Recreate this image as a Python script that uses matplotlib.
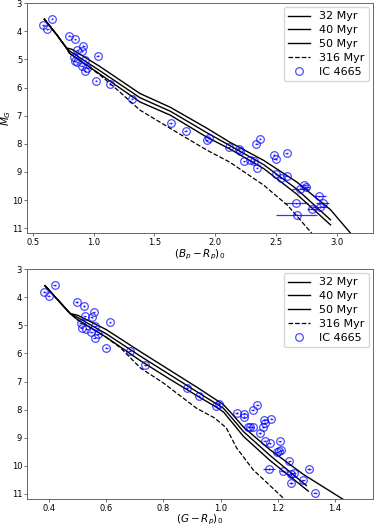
import numpy as np
import matplotlib
matplotlib.use('Agg')
import matplotlib.pyplot as plt

# IC 4665 members, (Bp-Rp)_0 vs M_G
bprp = [0.585, 0.618, 0.656, 0.80, 0.845, 0.914, 0.862, 0.903, 0.835, 1.032,
        0.925, 0.843, 0.86, 0.90, 0.947, 0.928, 1.018, 1.133, 1.317, 1.633,
        1.756, 1.93, 1.95, 2.116, 2.198, 2.204, 2.24, 2.287, 2.32, 2.34,
        2.37, 2.344, 2.487, 2.498, 2.589, 2.50, 2.54, 2.589, 2.734, 2.75,
        2.70, 2.858, 2.666, 2.886, 2.795, 2.86, 2.672]
mg_top = [3.79, 3.93, 3.55, 4.15, 4.28, 4.52, 4.67, 4.70, 4.91, 4.87,
          5.03, 5.07, 5.10, 5.23, 5.30, 5.41, 5.76, 5.89, 6.39, 7.27,
          7.53, 7.88, 7.80, 8.12, 8.18, 8.27, 8.62, 8.59, 8.61, 8.00,
          7.82, 8.85, 8.39, 8.55, 8.33, 9.08, 9.20, 9.14, 9.47, 9.55,
          9.60, 9.86, 10.12, 10.10, 10.30, 10.25, 10.53]
bprp_err = [0.01, 0.01, 0.01, 0.01, 0.01, 0.01, 0.01, 0.01, 0.01, 0.01,
            0.01, 0.01, 0.01, 0.01, 0.01, 0.01, 0.01, 0.01, 0.01, 0.01,
            0.01, 0.01, 0.01, 0.01, 0.01, 0.01, 0.01, 0.01, 0.01, 0.01,
            0.01, 0.01, 0.01, 0.01, 0.01, 0.01, 0.01, 0.01, 0.02, 0.03,
            0.07, 0.055, 0.10, 0.055, 0.04, 0.06, 0.17]

# IC 4665 members, (G-Rp)_0 vs M_G
grp = [0.383, 0.399, 0.42, 0.497, 0.5225, 0.556, 0.55, 0.525, 0.511, 0.6135,
       0.562, 0.515, 0.53, 0.548, 0.57, 0.56, 0.601, 0.682, 0.737, 0.881,
       0.924, 0.983, 0.994, 1.056, 1.082, 1.082, 1.112, 1.128, 1.097, 1.103,
       1.112, 1.153, 1.155, 1.149, 1.178, 1.137, 1.155, 1.172, 1.207, 1.196,
       1.205, 1.213, 1.24, 1.17, 1.217, 1.257, 1.245, 1.31, 1.289, 1.246,
       1.33]
mg_bot = [3.81, 3.95, 3.57, 4.17, 4.31, 4.53, 4.71, 4.67, 4.90, 4.89,
          5.04, 5.09, 5.12, 5.24, 5.32, 5.44, 5.79, 5.91, 6.42, 7.23,
          7.50, 7.88, 7.80, 8.12, 8.15, 8.26, 8.00, 7.82, 8.60, 8.60,
          8.63, 8.38, 8.47, 8.62, 8.32, 8.83, 9.10, 9.19, 9.13, 9.52,
          9.48, 9.45, 9.84, 10.11, 10.20, 10.25, 10.30, 10.11, 10.52, 10.61,
          10.96]
grp_err = [0.005] * 43 + [0.02] + [0.008] * 7

# isochrones, (Bp-Rp)_0
iso32_bprp = [0.593, 0.70, 0.774, 0.82, 1.05, 1.38, 1.63, 1.93, 2.12, 2.40, 2.67, 2.95, 3.12]
iso32_mg = [3.57, 4.15, 4.59, 4.64, 5.25, 6.21, 6.70, 7.44, 7.94, 8.59, 9.35, 10.34, 11.2]
iso40_bprp = [0.593, 0.70, 0.774, 0.80, 1.05, 1.38, 1.63, 1.93, 2.12, 2.40, 2.67, 2.95]
iso40_mg = [3.57, 4.15, 4.59, 4.70, 5.40, 6.36, 6.84, 7.60, 8.06, 8.74, 9.60, 10.70]
iso50_bprp = [0.593, 0.70, 0.774, 0.80, 1.05, 1.38, 1.63, 1.93, 2.12, 2.40, 2.67, 2.95]
iso50_mg = [3.57, 4.15, 4.59, 4.78, 5.52, 6.51, 6.98, 7.76, 8.18, 8.88, 9.78, 10.88]
iso316_bprp = [0.593, 0.70, 0.774, 0.80, 1.05, 1.20, 1.38, 1.63, 1.93, 2.12, 2.40, 2.60, 2.80]
iso316_mg = [3.57, 4.15, 4.59, 4.78, 5.55, 6.10, 6.80, 7.45, 8.22, 8.65, 9.47, 10.2, 11.2]

# isochrones, (G-Rp)_0
iso32_grp = [0.386, 0.474, 0.50, 0.60, 0.72, 0.82, 0.92, 0.98, 1.01, 1.04, 1.08, 1.172, 1.289, 1.43]
iso32_mgb = [3.59, 4.58, 4.64, 5.15, 5.94, 6.58, 7.22, 7.62, 7.82, 8.15, 8.62, 9.42, 10.30, 11.2]
iso40_grp = [0.386, 0.474, 0.50, 0.60, 0.72, 0.82, 0.92, 0.98, 1.01, 1.04, 1.08, 1.172, 1.30]
iso40_mgb = [3.59, 4.58, 4.72, 5.30, 6.10, 6.74, 7.38, 7.76, 7.95, 8.30, 8.78, 9.62, 10.70]
iso50_grp = [0.386, 0.474, 0.50, 0.60, 0.72, 0.82, 0.92, 0.98, 1.01, 1.04, 1.08, 1.172, 1.307]
iso50_mgb = [3.59, 4.58, 4.80, 5.42, 6.26, 6.90, 7.52, 7.88, 8.08, 8.45, 8.95, 9.80, 10.90]
iso316_grp = [0.386, 0.474, 0.50, 0.60, 0.65, 0.72, 0.80, 0.916, 0.98, 1.02, 1.056, 1.114, 1.225]
iso316_mgb = [3.59, 4.58, 4.80, 5.43, 5.80, 6.52, 7.05, 7.95, 8.30, 8.65, 9.36, 10.14, 11.2]

ages = ['32 Myr', '40 Myr', '50 Myr', '316 Myr']

fig = plt.figure(figsize=(3.74, 5.26), dpi=100)
ax1 = fig.add_axes([0.0722, 0.557, 0.925, 0.437])
ax2 = fig.add_axes([0.0722, 0.0513, 0.925, 0.437])


def draw_panel(ax, isos, x, y, xerr):
    for (ix, iy), lab in zip(isos, ages):
        ls = '--' if lab == '316 Myr' else '-'
        lw = 0.9 if lab == '316 Myr' else 1.0
        ax.plot(ix, iy, color='k', ls=ls, lw=lw, label=lab)
    ax.errorbar(x, y, xerr=xerr, yerr=0.02, fmt='none', ecolor='b',
                elinewidth=0.9, alpha=0.8)
    ax.plot(x, y, 'o', ms=5.5, mfc='none', mec='b', mew=0.9, alpha=0.7,
            label='IC 4665')
    ax.set_yticks(range(3, 12))
    ax.tick_params(labelsize=6, length=2, pad=1.5, width=0.6, color='0.35')
    for s in ax.spines.values():
        s.set_linewidth(0.7)
        s.set_color('0.4')
    ax.legend(loc='upper right', fontsize=8, labelspacing=0.35,
              borderaxespad=0.35, handlelength=2.0)


draw_panel(ax1, [(iso32_bprp, iso32_mg), (iso40_bprp, iso40_mg),
                 (iso50_bprp, iso50_mg), (iso316_bprp, iso316_mg)],
           bprp, mg_top, bprp_err)
ax1.set_xlim(0.45, 3.3)
ax1.set_xticks([0.5, 1.0, 1.5, 2.0, 2.5, 3.0])
ax1.set_xlabel(r'$(B_p - R_p)_0$', fontsize=7.5, labelpad=0.5)
ax1.set_ylabel(r'$M_G$', fontsize=7.5)
ax1.yaxis.set_label_coords(-0.04, 0.5)
ax1.set_ylim(11.17, 3)

draw_panel(ax2, [(iso32_grp, iso32_mgb), (iso40_grp, iso40_mgb),
                 (iso50_grp, iso50_mgb), (iso316_grp, iso316_mgb)],
           grp, mg_bot, grp_err)
ax2.set_xlim(0.323, 1.533)
ax2.set_xticks([0.4, 0.6, 0.8, 1.0, 1.2, 1.4])
ax2.set_xlabel(r'$(G - R_p)_0$', fontsize=7.5, labelpad=-0.5)
ax2.set_ylim(11.18, 3)

fig.savefig('out.png', dpi=100)
